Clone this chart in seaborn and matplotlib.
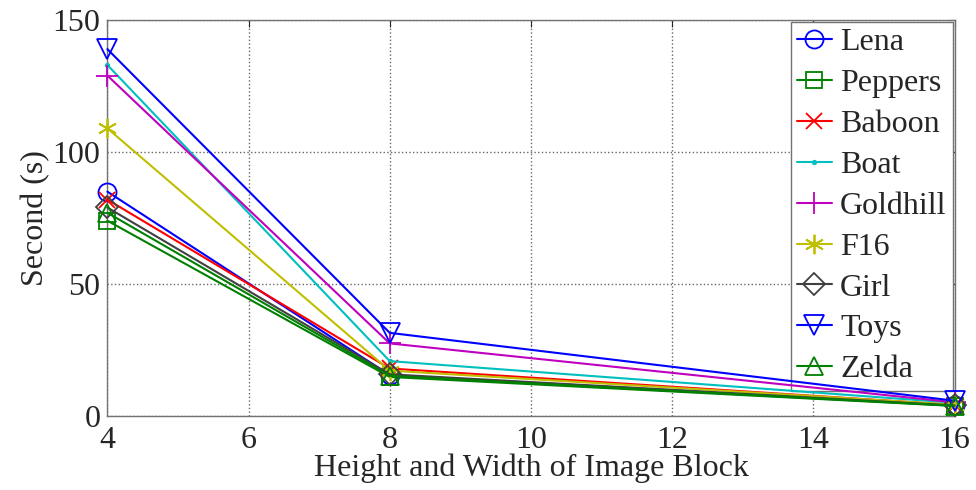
import matplotlib
matplotlib.use("Agg")
import matplotlib.pyplot as plt
import seaborn as sns
import pandas as pd

# block sizes and running time (s) per test image
block_size = [4, 8, 16]
names = ["Lena", "Peppers", "Baboon", "Boat", "Goldhill", "F16", "Girl", "Toys", "Zelda"]
lena = [85, 15.5, 4]
peppers = [74, 14.8, 3.8]
baboon = [82, 18, 4.2]
boat = [133, 20.8, 5]
goldhill = [129, 27.5, 5.2]
f16 = [109, 17.2, 4.3]
girl = [79, 15.8, 4]
toys = [139, 31.5, 5.8]
zelda = [77, 15.2, 3.9]
series = [lena, peppers, baboon, boat, goldhill, f16, girl, toys, zelda]

colors = [(0, 0, 1), (0, 0.5, 0), (1, 0, 0), (0, 0.75, 0.75), (0.75, 0, 0.75),
          (0.75, 0.75, 0), (0.25, 0.25, 0.25), (0, 0, 1), (0, 0.5, 0)]
# matlab-like markers (asterisk for F16)
markers = ["o", "s", "x", ".", "+", (6, 2, 0), "D", "v", "^"]
sizes = [13, 12, 11, 5, 16, 14, 11, 15, 13]

sns.set_style("white")
plt.rcParams["font.family"] = ["Liberation Serif", "DejaVu Serif"]

fig, ax = plt.subplots(figsize=(9.76, 4.9), dpi=100)
fig.subplots_adjust(left=0.11, right=0.978, top=0.959, bottom=0.151)

for name, vals, c, m, s in zip(names, series, colors, markers, sizes):
    df = pd.DataFrame({"block": block_size, "sec": vals})
    sns.lineplot(data=df, x="block", y="sec", ax=ax, color=c, marker=m,
                 markersize=s, mfc="none", mec=c, mew=1.3, lw=1.5, label=name,
                 zorder=6, clip_on=False)

ax.set_xlim(4, 16)
ax.set_ylim(0, 150)
ax.set_xticks(range(4, 17, 2))
ax.set_yticks([0, 50, 100, 150])
ax.grid(True, linestyle=":", color="0.4", lw=1)
ax.tick_params(direction="in", labelsize=23, length=5, top=True, right=True)
ax.tick_params(axis="x", pad=7)
ax.tick_params(axis="y", pad=5)
for sp in ax.spines.values():
    sp.set_color("0.45")
    sp.set_linewidth(1)
ax.set_xlabel("Height and Width of Image Block", fontsize=23, labelpad=-1)
ax.set_ylabel("Second (s)", fontsize=23, labelpad=2)

leg = ax.legend(loc="upper right", fontsize=23, frameon=True, fancybox=False,
                framealpha=1, borderpad=0.2, labelspacing=0.36, handlelength=1.1,
                handletextpad=0.25, borderaxespad=0.05)
leg.get_frame().set_edgecolor("0.45")
leg.get_frame().set_linewidth(1)

fig.savefig("out.png", dpi=100)
